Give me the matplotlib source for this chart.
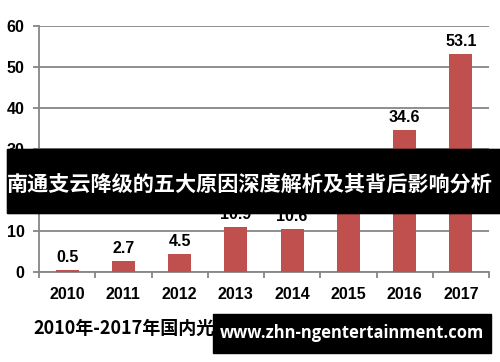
import matplotlib.pyplot as plt
from matplotlib.patches import Rectangle

years = ["2010", "2011", "2012", "2013", "2014", "2015", "2016", "2017"]
values = [0.5, 2.7, 4.5, 10.9, 10.6, 15.1, 34.6, 53.1]
value_labels = ["0.5", "2.7", "4.5", "10.9", "10.6", "15.1", "34.6", "53.1"]
y_ticks = [0, 10, 20, 30, 40, 50, 60]

chart_title = "2010年-2017年国内光伏新增装机容量（GW）"
banner_text = "南通支云降级的五大原因深度解析及其背后影响分析"
site_text = "www.zhn-ngentertainment.com"

bar_color = "#C0504D"
grid_color = "#868686"

plt.rcParams['font.family'] = ['Liberation Sans', 'Noto Sans CJK SC', 'DejaVu Sans']

fig = plt.figure(figsize=(5, 3.62), dpi=100)
W, H = 500, 362

def fx(px):
    return px / W

def fy(py):
    return 1 - py / H

# opaque black banner behind the axes, so bars show on black
fig.patches.append(Rectangle((fx(7), fy(213)), fx(500) - fx(7), fy(149) - fy(213),
                             transform=fig.transFigure, color="black", zorder=0))

ax = fig.add_axes([fx(39), fy(272), fx(489) - fx(39), fy(26) - fy(272)])
ax.set_facecolor("none")
ax.set_axisbelow(True)

x = list(range(len(years)))
ax.bar(x, values, width=0.41, color=bar_color, zorder=3)
for i, v in enumerate(values):
    ax.annotate(value_labels[i], (i, v), xytext=(0, 3.5), textcoords="offset points",
                ha="center", va="bottom", fontsize=11.5, fontweight="bold", zorder=4)

ax.set_xlim(-0.5, len(years) - 0.5)
ax.set_ylim(0, 60)
ax.set_yticks(y_ticks)
ax.set_yticklabels([str(t) for t in y_ticks], fontsize=11.5, fontweight="bold")
ax.set_xticks(x)
ax.set_xticklabels(years, fontsize=11.5, fontweight="bold")
ax.set_xticks([i - 0.5 for i in range(len(years) + 1)], minor=True)

ax.tick_params(axis="x", which="major", length=0, pad=11)
ax.tick_params(axis="x", which="minor", length=4.5, width=1.3, color=grid_color)
ax.tick_params(axis="y", length=4.5, width=1.3, color=grid_color, pad=6)

ax.yaxis.grid(True, color=grid_color, linewidth=1.3)
for s in ["top", "right"]:
    ax.spines[s].set_visible(False)
for s in ["left", "bottom"]:
    ax.spines[s].set_color(grid_color)
    ax.spines[s].set_linewidth(1.3)

fig.text(fx(33), fy(328), chart_title, fontsize=13, fontweight="bold",
         family=['Noto Sans CJK SC', 'DejaVu Sans'], ha="left", va="center")

# translucent overlay darkening the bars under the banner
fig.patches.append(Rectangle((fx(7), fy(213)), fx(500) - fx(7), fy(149) - fy(213),
                             transform=fig.transFigure, color="black", alpha=0.6, zorder=10))
fig.text(fx(250), fy(184), banner_text, fontsize=15.2, fontweight="bold", color="white",
         family=['Noto Sans CJK SC', 'DejaVu Sans'], ha="center", va="center", zorder=11)

fig.patches.append(Rectangle((fx(213), fy(353)), fx(491) - fx(213), fy(314) - fy(353),
                             transform=fig.transFigure, color="black", zorder=10))
fig.text(fx(352), fy(333), site_text, fontsize=11.9, fontweight="bold", color="white",
         family=['Open Sans', 'DejaVu Sans'], ha="center", va="center", zorder=11)

fig.savefig("out.png", dpi=100)
